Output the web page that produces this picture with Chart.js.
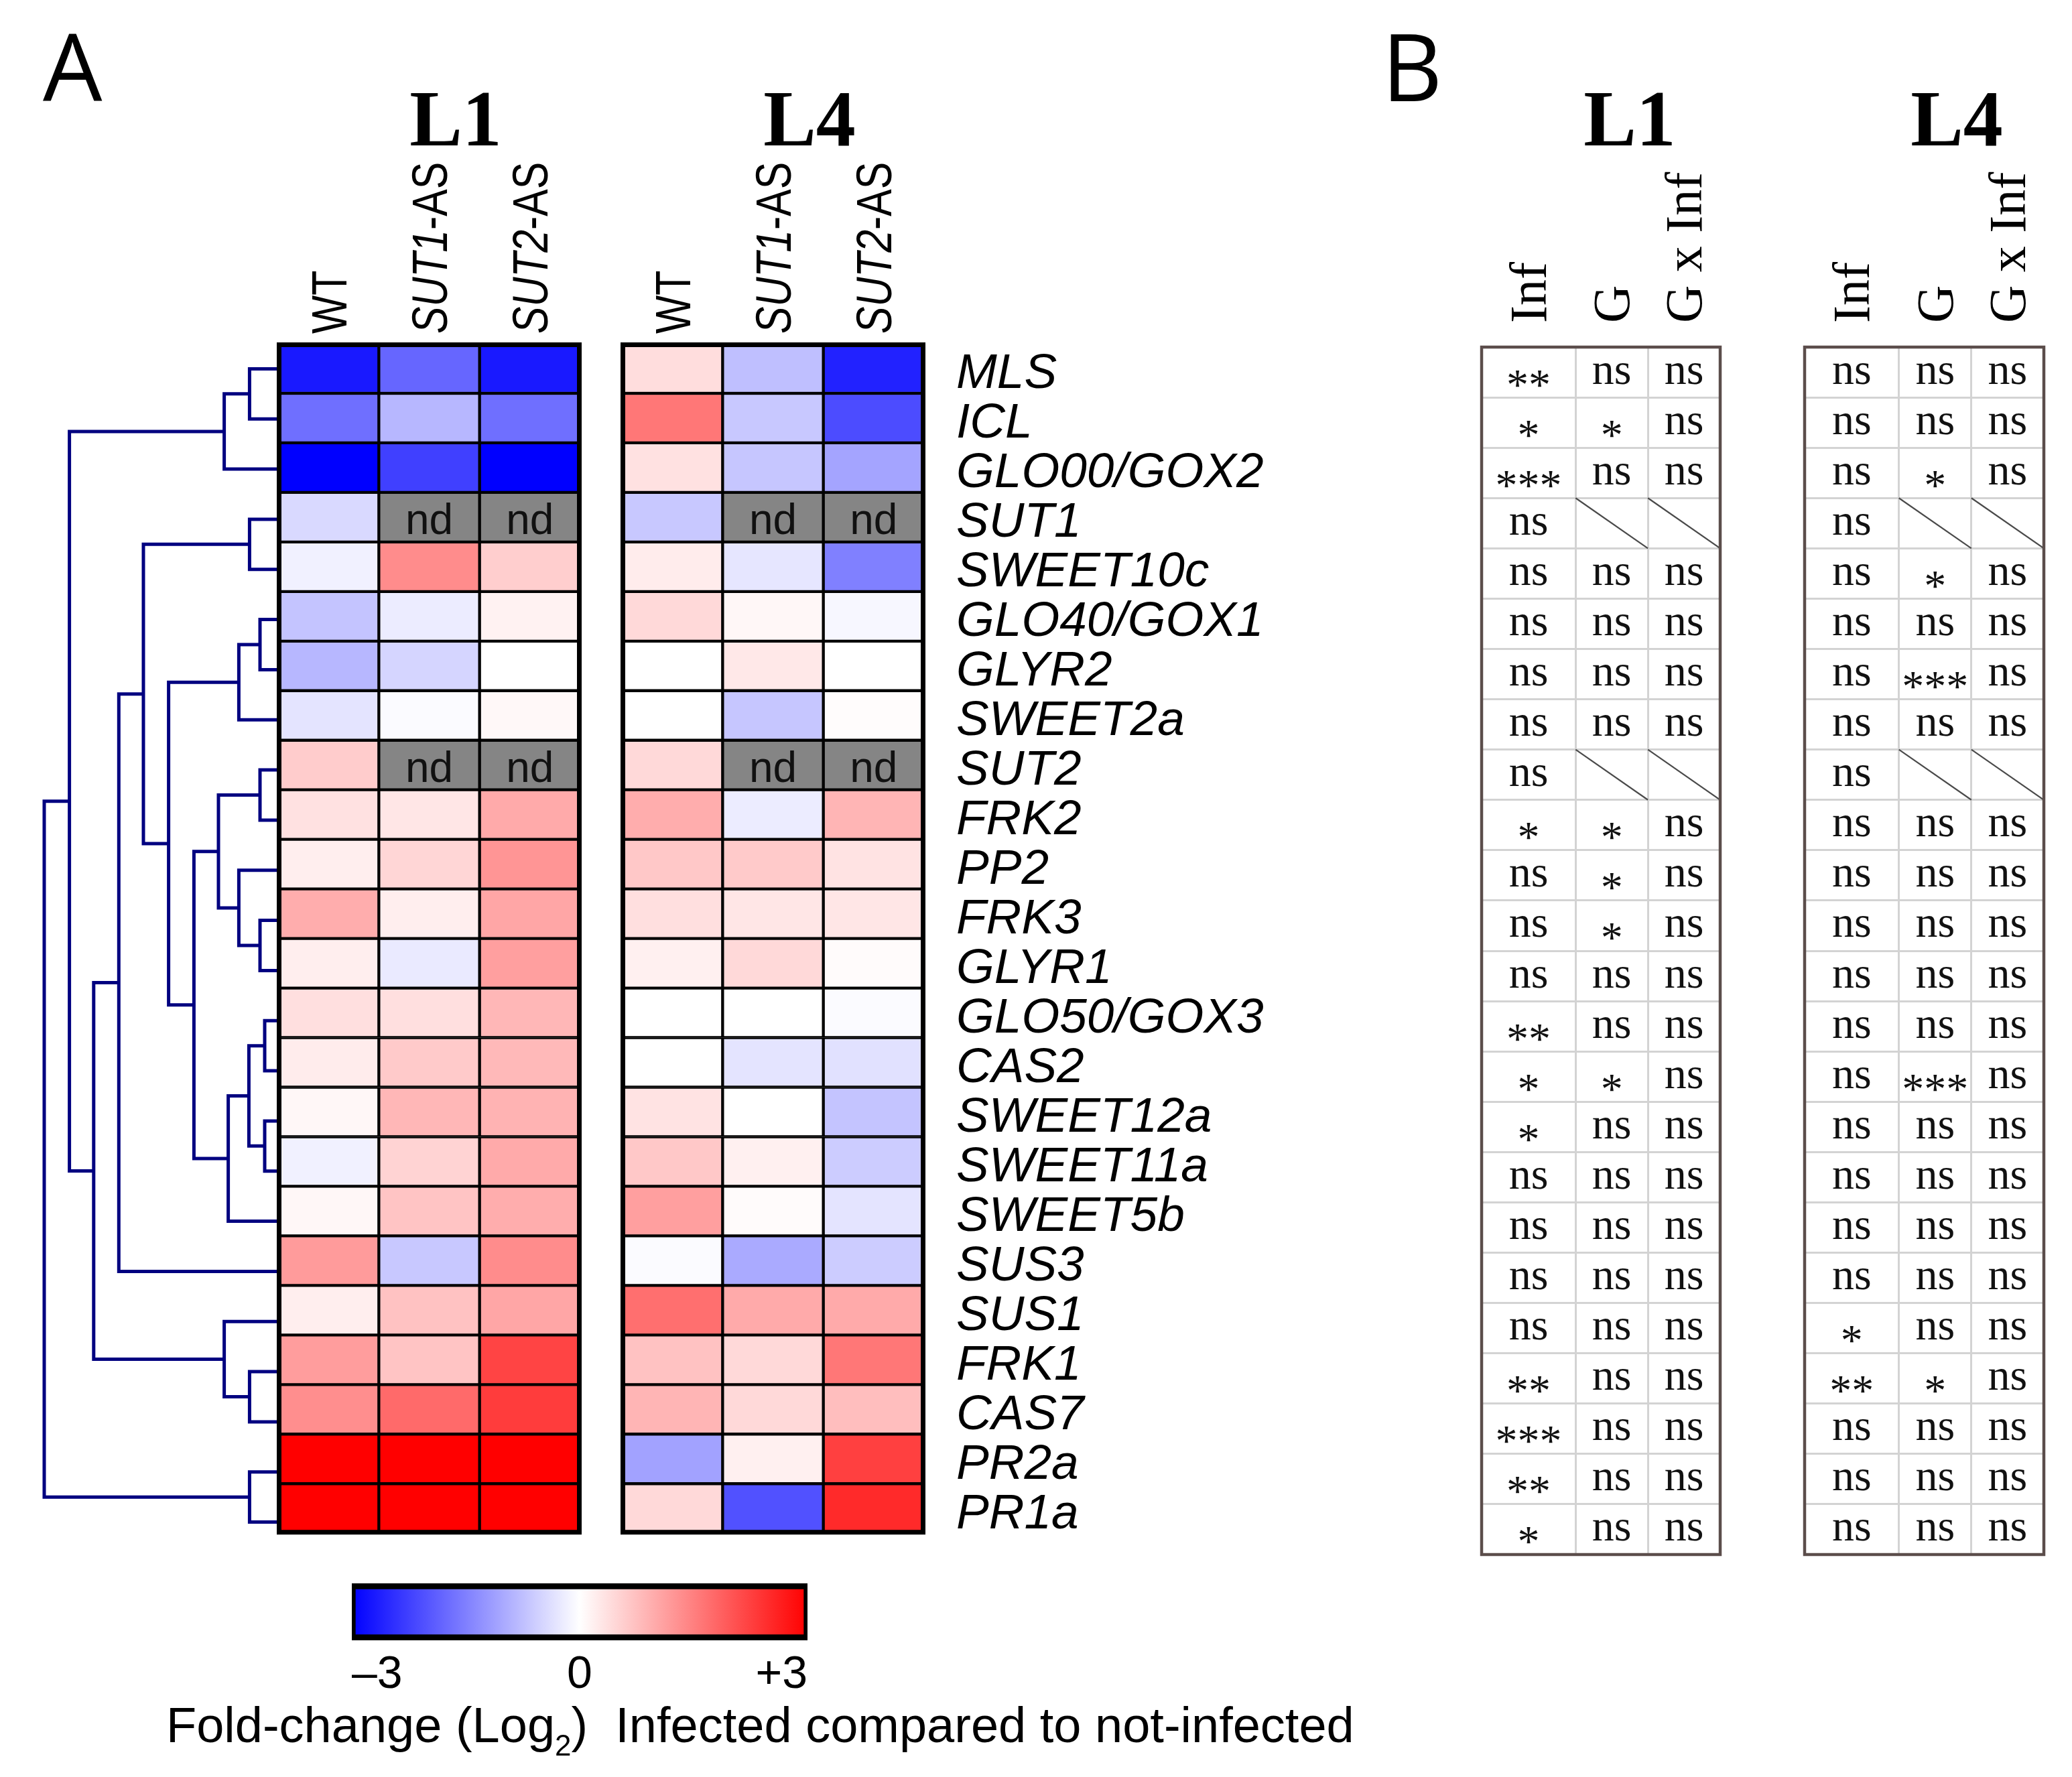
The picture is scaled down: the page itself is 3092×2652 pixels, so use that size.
<!DOCTYPE html>
<html><head><meta charset="utf-8">
<script src="https://cdn.jsdelivr.net/npm/chart.js@4.4.1/dist/chart.umd.min.js"></script>
<style>
html,body{margin:0;padding:0;background:#fff;width:3092px;height:2652px;overflow:hidden;}
canvas{position:absolute;}
</style></head><body>
<canvas id="dendro"></canvas>
<canvas id="heat"></canvas>
<canvas id="cbar"></canvas>
<canvas id="tabL1"></canvas>
<canvas id="tabL4"></canvas>
<script>
// ---------------- DATA ----------------
const genes = ['MLS','ICL','GLO00/GOX2','SUT1','SWEET10c','GLO40/GOX1','GLYR2','SWEET2a','SUT2','FRK2','PP2','FRK3','GLYR1','GLO50/GOX3','CAS2','SWEET12a','SWEET11a','SWEET5b','SUS3','SUS1','FRK1','CAS7','PR2a','PR1a'];
const columnNames = [[{t:'WT',i:false}],[{t:'SUT1',i:true},{t:'-AS',i:false}],[{t:'SUT2',i:true},{t:'-AS',i:false}]];
const lineNames = ['L1','L4'];
// log2 fold change, null = not determined (nd)
const l1WT   = [-2.7,-1.7,-3.0,-0.45,-0.17,-0.7,-0.85,-0.32,0.6,0.35,0.2,0.97,0.2,0.38,0.22,0.1,-0.17,0.1,1.18,0.2,1.15,1.33,3.0,3.0];
const l1SUT1 = [-1.8,-0.85,-2.25,null,1.35,-0.22,-0.5,-0.05,null,0.3,0.48,0.2,-0.25,0.38,0.62,0.85,0.52,0.7,-0.65,0.72,0.7,1.75,3.0,3.0];
const l1SUT2 = [-2.7,-1.7,-3.0,null,0.58,0.15,0,0.08,null,1.0,1.25,1.05,1.13,0.85,0.82,0.9,1.0,0.97,1.35,1.05,2.2,2.3,3.0,3.0];
const l4WT   = [0.4,1.6,0.35,-0.65,0.22,0.45,0,0,0.45,0.97,0.65,0.38,0.18,0,0,0.33,0.65,1.13,-0.05,1.7,0.72,0.87,-1.1,0.45];
const l4SUT1 = [-0.75,-0.65,-0.67,null,-0.3,0.1,0.27,-0.67,null,-0.22,0.62,0.3,0.45,0,-0.32,0,0.18,0.05,-1.0,1.0,0.45,0.45,0.18,-2.05];
const l4SUT2 = [-2.6,-2.1,-1.07,null,-1.5,-0.1,0,0.04,null,0.87,0.33,0.3,0.05,-0.05,-0.35,-0.7,-0.6,-0.32,-0.6,1.0,1.6,0.77,2.25,2.5];
// dendrogram: [mergeHeight, left, right], leaves are row indices
const dendroTree = [349,[311.4,[80.4,[42.6,0,1],2],[275.2,[237.7,[201,[42.6,3,4],[163.4,[58.6,[27,5,6],7],[125.6,[89,[27,8,9],[58.6,10,[27,11,12]]],[74.4,[43.6,[20,13,14],[20,15,16]],17]]]],18],[80.4,19,[42.6,20,21]]]],[42.6,22,23]];
// colour bar
const cbTicks = [-3,0,3];
const cbTickLabels = ['\u20133','0','+3'];
const cbTitleA = 'Fold-change (Log', cbTitleSub = '2', cbTitleB = ')  Infected compared to not-infected';
// significance table (null = not applicable, slashed)
const tableCols = ['Inf','G','G x Inf'];
const sigL1Inf = ['**','*','***','ns','ns','ns','ns','ns','ns','*','ns','ns','ns','**','*','*','ns','ns','ns','ns','**','***','**','*'];
const sigL1G   = ['ns','*','ns',null,'ns','ns','ns','ns',null,'*','*','*','ns','ns','*','ns','ns','ns','ns','ns','ns','ns','ns','ns'];
const sigL1GxI = ['ns','ns','ns',null,'ns','ns','ns','ns',null,'ns','ns','ns','ns','ns','ns','ns','ns','ns','ns','ns','ns','ns','ns','ns'];
const sigL4Inf = ['ns','ns','ns','ns','ns','ns','ns','ns','ns','ns','ns','ns','ns','ns','ns','ns','ns','ns','ns','*','**','ns','ns','ns'];
const sigL4G   = ['ns','ns','*',null,'*','ns','***','ns',null,'ns','ns','ns','ns','ns','***','ns','ns','ns','ns','ns','*','ns','ns','ns'];
const sigL4GxI = ['ns','ns','ns',null,'ns','ns','ns','ns',null,'ns','ns','ns','ns','ns','ns','ns','ns','ns','ns','ns','ns','ns','ns','ns'];

// ---------------- HELPERS ----------------
const SANS = '"Liberation Sans", Arial, sans-serif';
const SERIF = '"Liberation Serif", "Times New Roman", serif';
function setupCanvas(id, x, y, w, h) {
  const c = document.getElementById(id);
  c.width = w; c.height = h;
  c.style.left = x + 'px'; c.style.top = y + 'px';
  c.style.width = w + 'px'; c.style.height = h + 'px';
  return c;
}
function colorFor(v) {
  if (v === null) return '#858585';
  const t = Math.max(-1, Math.min(1, v / 3));
  if (t >= 0) { const g = Math.round(255 * (1 - t)); return `rgb(255,${g},${g})`; }
  const g = Math.round(255 * (1 + t)); return `rgb(${g},${g},255)`;
}
const base = { responsive: false, animation: false, devicePixelRatio: 1, events: [],
  plugins: { legend: { display: false }, tooltip: { enabled: false }, title: { display: false } } };

function drawRotated(ctx, parts, cx, yb, size, squeeze, family, capRatio) {
  ctx.save();
  ctx.translate(cx, yb); ctx.rotate(-Math.PI / 2); ctx.scale(squeeze, 1);
  let xx = 0; const capH = capRatio * size;
  ctx.textAlign = 'left'; ctx.textBaseline = 'alphabetic'; ctx.fillStyle = '#000';
  parts.forEach(p => {
    ctx.font = (p.i ? 'italic ' : '') + size + 'px ' + family;
    ctx.fillText(p.t, xx, capH / 2);
    xx += ctx.measureText(p.t).width;
  });
  ctx.restore();
}

// ---------------- LAYOUT ----------------
const heatTop = 513, heatBottom = 2309;

// ---------------- DENDROGRAM ----------------
const dX = 40, dY = heatTop, dW = 375, dH = heatBottom - heatTop;
setupCanvas('dendro', dX, dY, dW, dH);
const dendroSets = [];
function walk(node) {
  if (typeof node === 'number') return { y: node, h: 0 };
  const [h, a, b] = node;
  const la = walk(a), lb = walk(b);
  dendroSets.push({ data: [{x: la.h, y: la.y}, {x: h, y: la.y}, {x: h, y: lb.y}, {x: lb.h, y: lb.y}],
    showLine: true, borderColor: '#000080', borderWidth: 5, pointRadius: 0, tension: 0, fill: false,
    borderCapStyle: 'butt', borderJoinStyle: 'miter' });
  return { y: (la.y + lb.y) / 2, h };
}
walk(dendroTree);
new Chart(document.getElementById('dendro'), {
  type: 'scatter',
  data: { datasets: dendroSets },
  options: Object.assign({}, base, {
    layout: { padding: 0 },
    scales: {
      x: { type: 'linear', min: 0, max: dW, reverse: true, display: false },
      y: { type: 'linear', min: -0.5, max: genes.length - 0.5, reverse: true, display: false }
    }
  })
});

// ---------------- HEATMAP ----------------
const hW = 2050, hH = 2380;
setupCanvas('heat', 0, 0, hW, hH);
const gapUnits = 0.4125;
const heatColumns = [];
[[l1WT, l1SUT1, l1SUT2], [l4WT, l4SUT1, l4SUT2]].forEach((blk, b) =>
  blk.forEach((vals, j) => heatColumns.push({ vals, start: b * (3 + gapUnits) + j, label: columnNames[j], block: b })));

const heatDecor = {
  id: 'heatDecor',
  afterDatasetsDraw(chart) {
    const { ctx, chartArea: a, scales: { x } } = chart;
    ctx.save();
    heatColumns.forEach((col, di) => {
      const meta = chart.getDatasetMeta(di);
      col.vals.forEach((v, i) => {
        if (v !== null) return;
        const el = meta.data[i];
        const cx = (el.x + el.base) / 2;
        ctx.font = '64px ' + SANS; ctx.textAlign = 'center'; ctx.textBaseline = 'alphabetic';
        ctx.fillStyle = '#111';
        ctx.fillText('nd', cx, el.y + 25);
      });
    });
    ctx.strokeStyle = '#000'; ctx.lineWidth = 7;
    for (let b = 0; b < 2; b++) {
      const x0 = x.getPixelForValue(b * (3 + gapUnits)), x1 = x.getPixelForValue(b * (3 + gapUnits) + 3);
      ctx.strokeRect(x0 + 1.5, a.top + 1.5, x1 - x0 - 3, a.bottom - a.top - 3);
    }
    heatColumns.forEach(col => drawRotated(ctx, col.label, x.getPixelForValue(col.start + 0.5), 498, 74, 0.82, SANS, 0.716));
    ctx.fillStyle = '#000'; ctx.textBaseline = 'alphabetic'; ctx.textAlign = 'center';
    ctx.font = 'bold 118px ' + SERIF;
    ctx.fillText(lineNames[0], 680, 217);
    ctx.fillText(lineNames[1], 1208, 217);
    ctx.textAlign = 'left';
    ctx.font = '140px "Open Sans", ' + SANS;
    ctx.fillText('A', 64, 151);
    ctx.restore();
  }
};

new Chart(document.getElementById('heat'), {
  type: 'bar',
  data: {
    labels: genes,
    datasets: heatColumns.map(col => ({
      data: genes.map(() => [col.start, col.start + 1]),
      backgroundColor: col.vals.map(colorFor),
      borderColor: '#000', borderWidth: 2.5, borderSkipped: false,
      grouped: false, barPercentage: 1, categoryPercentage: 1
    }))
  },
  options: Object.assign({}, base, {
    indexAxis: 'y',
    layout: { padding: { left: 415, top: heatTop, right: 0, bottom: hH - heatBottom } },
    scales: {
      x: { type: 'linear', min: 0, max: 6 + gapUnits, display: false },
      y: { type: 'category', position: 'right', offset: true,
        grid: { display: false, drawTicks: false }, border: { display: false },
        ticks: { autoSkip: false, color: '#000', padding: 48, crossAlign: 'near', labelOffset: 9,
          font: { family: '"Liberation Sans", Arial, sans-serif', style: 'italic', size: 73 } },
        afterFit(s) { s.width = hW - 1379; } }
    }
  }),
  plugins: [heatDecor]
});

// ---------------- COLOUR BAR ----------------
const cX = 200, cY = 2330, cW = 1900, cH = 322;
setupCanvas('cbar', cX, cY, cW, cH);
const cbDecor = {
  id: 'cbDecor',
  afterDraw(chart) {
    const ctx = chart.ctx;
    ctx.save();
    ctx.fillStyle = '#000'; ctx.textAlign = 'left'; ctx.textBaseline = 'alphabetic';
    let x = 248 - cX; const yb = 2600 - cY;
    ctx.font = '74px ' + SANS;
    ctx.fillText(cbTitleA, x, yb); x += ctx.measureText(cbTitleA).width;
    ctx.font = '44px ' + SANS;
    ctx.fillText(cbTitleSub, x, yb + 20); x += ctx.measureText(cbTitleSub).width;
    ctx.font = '74px ' + SANS;
    ctx.fillText(cbTitleB, x, yb);
    ctx.restore();
  }
};
new Chart(document.getElementById('cbar'), {
  type: 'bar',
  data: { labels: ['scale'], datasets: [{
    data: [[cbTicks[0], cbTicks[cbTicks.length - 1]]],
    backgroundColor(c) {
      const ch = c.chart; const xs = ch.scales.x;
      if (!ch.chartArea || !xs) return '#fff';
      const g = ch.ctx.createLinearGradient(xs.getPixelForValue(cbTicks[0]), 0, xs.getPixelForValue(cbTicks[2]), 0);
      g.addColorStop(0, colorFor(cbTicks[0])); g.addColorStop(0.5, colorFor(cbTicks[1])); g.addColorStop(1, colorFor(cbTicks[2]));
      return g;
    },
    borderColor: '#000', borderWidth: { top: 9, bottom: 9, left: 6, right: 6 }, borderSkipped: false,
    barPercentage: 1, categoryPercentage: 1 }] },
  options: Object.assign({}, base, {
    indexAxis: 'y',
    layout: { padding: { left: 525 - cX, right: cX + cW - 1205, top: 2363 - cY, bottom: 0 } },
    scales: {
      x: { type: 'linear', min: cbTicks[0], max: cbTicks[2], position: 'bottom',
        grid: { display: false, drawTicks: false }, border: { display: false },
        afterBuildTicks(s) { s.ticks = cbTicks.map(v => ({ value: v })); },
        ticks: { color: '#000', padding: 11, align: 'inner', font: { family: '"Liberation Sans", Arial, sans-serif', size: 68 },
          callback: (v) => cbTickLabels[cbTicks.indexOf(v)] },
        afterFit(s) { s.height = cY + cH - 2448; } },
      y: { display: false }
    }
  }),
  plugins: [cbDecor]
});

// ---------------- TABLES ----------------
const colEdges = [0, 1.3, 2.3, 3.3];
function makeTable(id, pageX, w, areaL, areaR, cols, heading, headingX, withLetter) {
  const h = 2400;
  setupCanvas(id, pageX, 0, w, h);
  const slashSets = [];
  cols.forEach((vals, j) => vals.forEach((s, i) => {
    if (s === null) slashSets.push({ data: [{x: colEdges[j], y: i}, {x: colEdges[j + 1], y: i + 1}],
      showLine: true, borderColor: '#4a4a4a', borderWidth: 2.2, pointRadius: 0 });
  }));
  const decor = {
    id: 'tabDecor' + id,
    afterDatasetsDraw(chart) {
      const { ctx, chartArea: a, scales: { x, y } } = chart;
      ctx.save();
      ctx.strokeStyle = '#5b4d4b'; ctx.lineWidth = 4.5;
      ctx.strokeRect(a.left, a.top, a.right - a.left, a.bottom - a.top);
      ctx.fillStyle = '#111'; ctx.textAlign = 'center'; ctx.textBaseline = 'alphabetic';
      ctx.font = '66px ' + SERIF;
      cols.forEach((vals, j) => {
        const cx = x.getPixelForValue((colEdges[j] + colEdges[j + 1]) / 2);
        vals.forEach((s, i) => {
          if (s === null) return;
          const cy = y.getPixelForValue(i + 0.5);
          ctx.fillText(s, cx, s === 'ns' ? cy + 17 : cy + 40);
        });
      });
      tableCols.forEach((t, j) => {
        const cx = x.getPixelForValue((colEdges[j] + colEdges[j + 1]) / 2);
        drawRotated(ctx, [{t, i: false}], cx, 482, 78, 1, SERIF, 0.662);
      });
      ctx.fillStyle = '#000'; ctx.textAlign = 'center';
      ctx.font = 'bold 118px ' + SERIF;
      ctx.fillText(heading, headingX - pageX, 217);
      if (withLetter) {
        ctx.textAlign = 'left'; ctx.font = '140px "Open Sans", ' + SANS;
        ctx.fillText('B', 2062 - pageX, 151);
      }
      ctx.restore();
    }
  };
  new Chart(document.getElementById(id), {
    type: 'scatter',
    data: { datasets: slashSets },
    options: Object.assign({}, base, {
      layout: { padding: { left: areaL - pageX, right: pageX + w - areaR, top: 518, bottom: h - 2320 } },
      scales: {
        x: { type: 'linear', min: colEdges[0], max: colEdges[3], position: 'top',
          grid: { color: '#d3d3d3', lineWidth: 3, drawTicks: false }, border: { display: false },
          ticks: { display: false },
          afterBuildTicks(s) { s.ticks = colEdges.map(v => ({ value: v })); },
          afterFit(s) { s.height = 0; } },
        y: { type: 'linear', min: 0, max: genes.length, reverse: true,
          grid: { color: '#d3d3d3', lineWidth: 3, drawTicks: false }, border: { display: false },
          ticks: { display: false },
          afterBuildTicks(s) { s.ticks = genes.map((g, i) => ({ value: i })).concat([{ value: genes.length }]); },
          afterFit(s) { s.width = 0; } }
      }
    }),
    plugins: [decor]
  });
}
makeTable('tabL1', 2050, 570, 2211, 2567, [sigL1Inf, sigL1G, sigL1GxI], lineNames[0], 2432, true);
makeTable('tabL4', 2620, 472, 2693, 3050, [sigL4Inf, sigL4G, sigL4GxI], lineNames[1], 2920, false);
</script>
</body></html>
